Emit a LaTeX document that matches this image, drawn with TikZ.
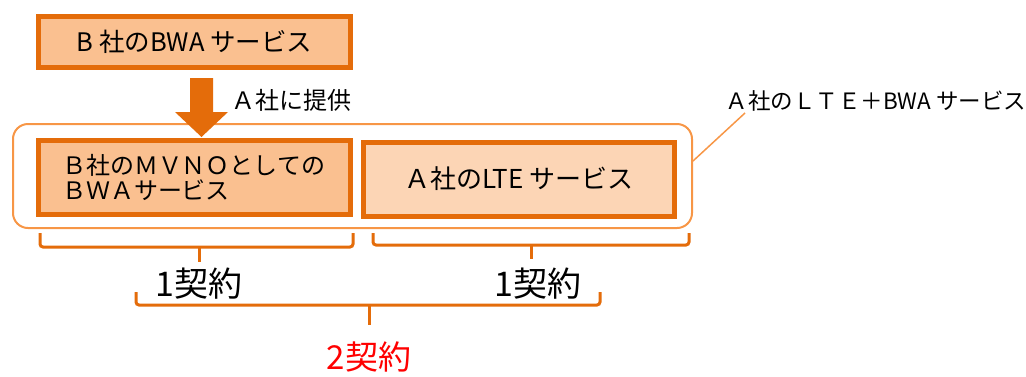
\documentclass[tikz,border=0pt]{standalone}
\usepackage{fontspec}
\setmainfont{Noto Sans CJK JP}
\definecolor{dorange}{HTML}{E46C0A}
\definecolor{lorange}{HTML}{F79646}
\definecolor{fillA}{HTML}{FAC090}
\definecolor{fillB}{HTML}{FCD5B5}
\tikzset{
  svcbox/.style={draw=dorange, line width=5pt, inner sep=0pt, minimum width=312pt, minimum height=74pt},
  bracket/.style={draw=dorange, line width=3pt, rounded corners=3pt},
  lbl/.style={inner sep=0pt, font=\fontsize{24}{28}\selectfont}
}
\begin{document}
\begin{tikzpicture}[x=1pt,y=-1pt]
\useasboundingbox (0,0) rectangle (1026,376);
% top box
\node (top) [svcbox, fill=fillA, minimum height=51pt, lbl, font=\fontsize{25.5}{29}\selectfont] at (194.5,42) {B 社のBWA サービス};
% group
\node (grp) [draw=lorange, line width=2pt, rounded corners=15pt, minimum width=679pt, minimum height=104pt] at (352.5,176) {};
% inner boxes
\node (lbox) [svcbox, fill=fillA, lbl, align=left, text width=265pt] at (194.5,177.5) {Ｂ社のＭＶＮＯとしての\\[-3pt]ＢＷＡサービス};
\node (rbox) [svcbox, fill=fillB, minimum width=311pt, lbl, font=\fontsize{26}{30}\selectfont] at (519,179) {Ａ社のLTE サービス};
% block arrow
\fill[dorange] (190,78) -- (213,78) -- (213,112) -- (228,112) -- (201.5,137) -- (175,112) -- (190,112) -- cycle;
\node (give) [lbl] at (291.5,100) {Ａ社に提供};
% callout
\node (call) [lbl, font=\fontsize{22.5}{26}\selectfont] at (876,101) {Ａ社のＬＴＥ＋BWA サービス};
\coordinate (cs) at (745,113);
\draw[lorange, line width=1.5pt] (grp.east |- 0,161) -- (cs);
% brackets
\draw[bracket] (40,233) -- (40,247) -- (353,247) -- (353,233);
\draw[dorange, line width=3pt] (199,247) -- (199,262);
\draw[bracket] (373,233) -- (373,245) -- (689,245) -- (689,233);
\draw[dorange, line width=3pt] (531,245) -- (531,259);
\draw[bracket] (136,292) -- (136,305) -- (600,305) -- (600,292);
\draw[dorange, line width=3pt] (369,305) -- (369,325);
% contract labels
\node (c1) [inner sep=0pt, font=\fontsize{34}{38}\selectfont] at (199,284) {1契約};
\node (c2) [inner sep=0pt, font=\fontsize{34}{38}\selectfont] at (538,284) {1契約};
\node (c3) [inner sep=0pt, text=red, font=\fontsize{33}{37}\selectfont] at (369,357) {2契約};
\end{tikzpicture}
\end{document}
